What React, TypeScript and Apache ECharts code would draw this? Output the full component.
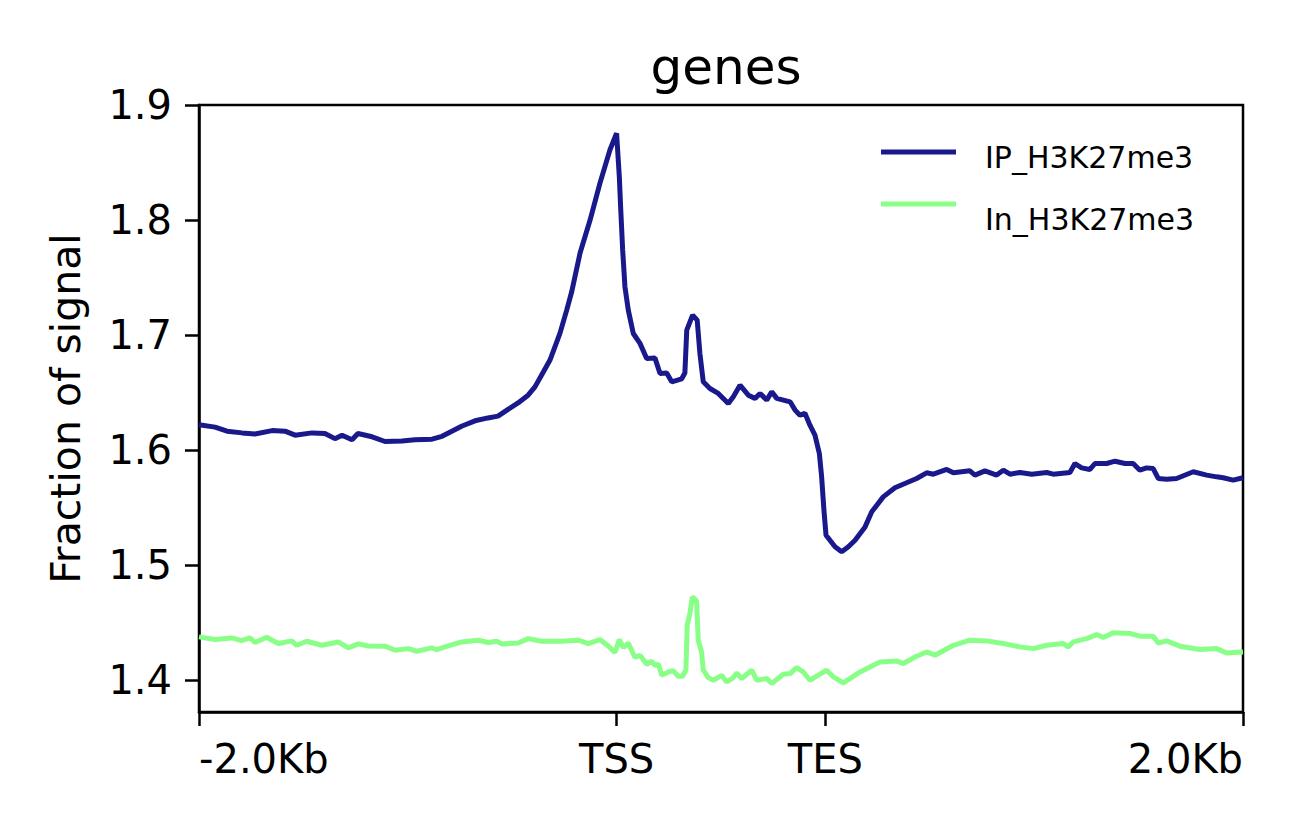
import React, { useEffect, useRef } from "react";
import * as echarts from "echarts";

const xTickPos = [0, 200, 300, 500];
const xTickLabels = ["-2.0Kb", "TSS", "TES", "2.0Kb"];
const yTicks = [1.4, 1.5, 1.6, 1.7, 1.8, 1.9];
const seriesNames = ["IP_H3K27me3", "In_H3K27me3"];
const seriesColors = ["#19198c", "#89ff88"];

const ipPos = [0, 7.7, 13.4, 20.6, 26.8, 35.0, 41.2, 46.0, 54.1, 60.3, 65.1, 68.5, 73.3, 76.1, 82.9, 89.1, 97.2, 103.4, 111.6, 116.4, 126.0, 132.2, 138.4, 143.2, 148.0, 152.8, 157.6, 160.9, 164.3, 168.1, 172.9, 176.1, 178.5, 182.5, 187.3, 192.0, 196.8, 200.0, 201.3, 202.0, 202.9, 204.0, 205.6, 208.0, 211.2, 214.4, 218.4, 220.8, 224.0, 226.4, 231.2, 232.7, 233.6, 236.4, 238.6, 239.9, 241.5, 244.7, 248.7, 253.5, 255.9, 259.1, 263.1, 266.3, 268.7, 271.9, 274.3, 276.7, 283.1, 285.5, 287.8, 290.2, 292.6, 295.0, 297.1, 298.2, 299.3, 300.3, 302.2, 304.6, 307.8, 311.0, 314.2, 319.0, 322.2, 327.7, 333.3, 338.9, 343.7, 348.5, 351.7, 358.1, 361.3, 369.2, 371.6, 376.4, 382.0, 385.2, 388.4, 393.2, 398.8, 406.0, 409.1, 417.1, 419.5, 422.7, 426.7, 429.1, 434.7, 438.7, 443.5, 447.4, 450.6, 453.8, 457.0, 459.4, 463.4, 468.2, 476.2, 482.6, 487.4, 490.5, 495.3, 500];
const ipVal = [1.622, 1.62, 1.6165, 1.615, 1.614, 1.617, 1.6165, 1.613, 1.615, 1.6145, 1.61, 1.613, 1.609, 1.6145, 1.6116, 1.6075, 1.608, 1.609, 1.6095, 1.612, 1.621, 1.6255, 1.628, 1.6296, 1.6354, 1.641, 1.6478, 1.655, 1.666, 1.6783, 1.7017, 1.7217, 1.7377, 1.7713, 1.8, 1.8319, 1.8609, 1.8754, 1.8377, 1.8087, 1.774, 1.742, 1.7217, 1.7014, 1.6928, 1.6797, 1.68, 1.6667, 1.667, 1.6594, 1.662, 1.667, 1.7043, 1.7174, 1.713, 1.684, 1.6594, 1.6536, 1.6493, 1.6406, 1.6464, 1.6565, 1.6478, 1.645, 1.6493, 1.6435, 1.6507, 1.645, 1.642, 1.6348, 1.6304, 1.632, 1.6217, 1.613, 1.5971, 1.5768, 1.5478, 1.5261, 1.5217, 1.516, 1.5116, 1.516, 1.5217, 1.5333, 1.5464, 1.5594, 1.5673, 1.5716, 1.5754, 1.5803, 1.5791, 1.5832, 1.5803, 1.582, 1.5783, 1.582, 1.5783, 1.5826, 1.5791, 1.5806, 1.5791, 1.5806, 1.5791, 1.5806, 1.5884, 1.5846, 1.5832, 1.5884, 1.5884, 1.5904, 1.5884, 1.5884, 1.5826, 1.5846, 1.584, 1.5754, 1.5748, 1.5754, 1.5812, 1.5783, 1.5768, 1.576, 1.5739, 1.576];

const inPos = [0, 7.7, 15.7, 20.4, 24.4, 26.8, 32.4, 38.0, 44.4, 46.8, 51.6, 58.8, 66.7, 71.5, 76.3, 81.1, 89.1, 93.9, 100.2, 104.3, 111.4, 113.8, 119.4, 125.8, 133.8, 138.5, 142.6, 145.0, 152.9, 157.7, 164.1, 173.7, 181.6, 186.4, 192.0, 196.0, 199.2, 201.3, 203.2, 205.6, 208.8, 211.2, 214.4, 216.8, 218.4, 220.0, 221.6, 224.8, 227.1, 229.5, 231.6, 233.2, 233.8, 235.1, 236.3, 238.3, 239.1, 240.7, 241.5, 243.9, 246.3, 250.3, 252.7, 255.9, 257.5, 259.9, 264.7, 267.1, 271.9, 274.3, 276.7, 279.8, 283.1, 286.2, 289.4, 292.6, 295.8, 300.6, 303.8, 308.6, 316.6, 326.1, 334.1, 337.3, 343.7, 348.5, 352.5, 361.3, 369.2, 377.2, 385.2, 393.2, 399.6, 406.0, 413.9, 416.3, 418.7, 425.1, 429.9, 433.1, 437.9, 445.9, 450.6, 457.0, 459.4, 463.4, 469.8, 479.4, 487.4, 492.2, 500];
const inVal = [1.4377, 1.4354, 1.4368, 1.4345, 1.4368, 1.4328, 1.4374, 1.4319, 1.4342, 1.4304, 1.4339, 1.4304, 1.4333, 1.4281, 1.4316, 1.4298, 1.4296, 1.4261, 1.4275, 1.4252, 1.4281, 1.4267, 1.4298, 1.4333, 1.4348, 1.4328, 1.4339, 1.4316, 1.4324, 1.4362, 1.4339, 1.4339, 1.4348, 1.4319, 1.4354, 1.4298, 1.4241, 1.4354, 1.4284, 1.4324, 1.4197, 1.4217, 1.4139, 1.4165, 1.413, 1.4139, 1.4043, 1.4072, 1.4084, 1.4035, 1.4035, 1.409, 1.4478, 1.458, 1.4725, 1.469, 1.4348, 1.4246, 1.409, 1.4023, 1.4, 1.4043, 1.3985, 1.4023, 1.4064, 1.4015, 1.4087, 1.4, 1.4015, 1.3971, 1.4006, 1.4052, 1.4058, 1.411, 1.4072, 1.4, 1.4035, 1.4087, 1.403, 1.3977, 1.4072, 1.4159, 1.4168, 1.4145, 1.4209, 1.4246, 1.4217, 1.4304, 1.4348, 1.4342, 1.4319, 1.429, 1.4275, 1.4304, 1.4319, 1.429, 1.4333, 1.4362, 1.4397, 1.4371, 1.4412, 1.4406, 1.4383, 1.4383, 1.4324, 1.4342, 1.4296, 1.4267, 1.4275, 1.4237, 1.4246];

const FONT = "DejaVu Sans";

export default function App() {
  const ref = useRef<HTMLDivElement>(null);
  useEffect(() => {
    if (!ref.current) return;
    const chart = echarts.init(ref.current, null, { renderer: "svg" });
    const ipData = ipPos.map((p, i) => [p, ipVal[i]]);
    const inData = inPos.map((p, i) => [p, inVal[i]]);
    const axisLineStyle = { color: "#000", width: 2.5 };
    chart.setOption({
      animation: false,
      backgroundColor: "#ffffff",
      title: {
        text: "genes",
        left: 721,
        top: 37,
        textAlign: "center",
        textStyle: { fontFamily: FONT, fontSize: 50, fontWeight: "normal", color: "#000" },
      },
      grid: {
        left: 199,
        right: 56,
        top: 105,
        bottom: 115,
        show: true,
        borderColor: "#000",
        borderWidth: 2.5,
        backgroundColor: "transparent",
      },
      xAxis: {
        type: "value",
        min: 0,
        max: 500,
        splitLine: { show: false },
        axisLine: { show: true, onZero: false, lineStyle: axisLineStyle },
        axisTick: { show: true, customValues: xTickPos, length: 14, lineStyle: axisLineStyle },
        axisLabel: {
          customValues: xTickPos,
          formatter: (v: number) => {
            const idx = xTickPos.indexOf(v);
            return idx >= 0 ? xTickLabels[idx] : "";
          },
          margin: 27,
          fontFamily: FONT,
          fontSize: 40,
          color: "#000",
          alignMinLabel: "left",
          alignMaxLabel: "right",
        },
      },
      yAxis: {
        type: "value",
        min: 1.3724,
        max: 1.9,
        name: "Fraction of signal",
        nameLocation: "middle",
        nameGap: 113,
        nameRotate: 90,
        nameTextStyle: { fontFamily: FONT, fontSize: 41, color: "#000" },
        splitLine: { show: false },
        axisLine: { show: true, onZero: false, lineStyle: axisLineStyle },
        axisTick: { show: true, customValues: yTicks, length: 14, lineStyle: axisLineStyle },
        axisLabel: {
          customValues: yTicks,
          formatter: (v: number) => v.toFixed(1),
          margin: 27,
          fontFamily: FONT,
          fontSize: 40,
          color: "#000",
        },
      },
      series: [
        {
          name: seriesNames[0],
          type: "line",
          data: ipData,
          showSymbol: false,
          symbol: "none",
          lineStyle: { color: seriesColors[0], width: 5 },
          itemStyle: { color: seriesColors[0] },
          z: 3,
        },
        {
          name: seriesNames[1],
          type: "line",
          data: inData,
          showSymbol: false,
          symbol: "none",
          lineStyle: { color: seriesColors[1], width: 5 },
          itemStyle: { color: seriesColors[1] },
          z: 2,
        },
      ],
      graphic: [
        { type: "line", shape: { x1: 881, y1: 152, x2: 956, y2: 152 }, style: { stroke: seriesColors[0], lineWidth: 5 } },
        { type: "text", x: 985, y: 157, style: { text: seriesNames[0], fontFamily: FONT, fontSize: 30, fill: "#000", textVerticalAlign: "middle", verticalAlign: "middle" } },
        { type: "line", shape: { x1: 881, y1: 204, x2: 956, y2: 204 }, style: { stroke: seriesColors[1], lineWidth: 5 } },
        { type: "text", x: 985, y: 219, style: { text: seriesNames[1], fontFamily: FONT, fontSize: 30, fill: "#000", textVerticalAlign: "middle", verticalAlign: "middle" } },
      ],
    });
    return () => chart.dispose();
  }, []);
  return <div ref={ref} style={{ position: "fixed", left: 0, top: 0, width: 1299, height: 827 }} />;
}
